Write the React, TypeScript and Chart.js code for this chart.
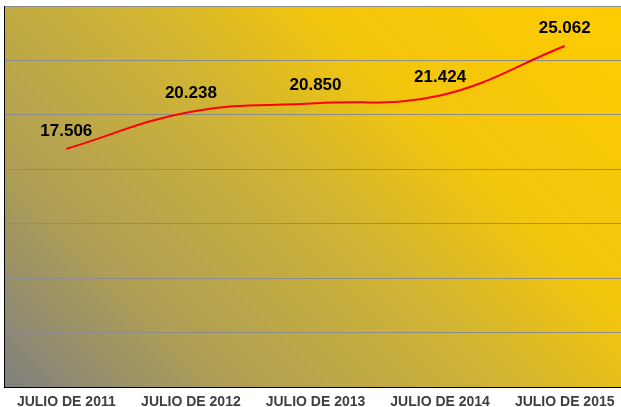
import React, { useEffect, useRef } from "react";
import { Chart, registerables } from "chart.js";

Chart.register(...registerables);

const categories = ["JULIO DE 2011", "JULIO DE 2012", "JULIO DE 2013", "JULIO DE 2014", "JULIO DE 2015"];
const values = [17506, 20238, 20850, 21424, 25062];
const yMin = 0;
const yMax = 28000;
const yStep = 4000;

const fmt = (v: number) => {
  const s = Math.round(v).toString();
  return s.replace(/\B(?=(\d{3})+(?!\d))/g, ".");
};

const bgPlugin = {
  id: "bgGradient",
  beforeDraw(chart: any) {
    const { ctx, chartArea } = chart;
    const { left, top, right, bottom } = chartArea;
    const w = right - left;
    const h = bottom - top;
    const d = (w + h) / 2;
    const g = ctx.createLinearGradient(left, bottom, left + d, bottom - d);
    g.addColorStop(0, "rgb(128,128,128)");
    g.addColorStop(0.22, "rgb(174,158,86)");
    g.addColorStop(0.5, "rgb(208,180,52)");
    g.addColorStop(0.68, "rgb(242,197,14)");
    g.addColorStop(1, "rgb(255,204,0)");
    ctx.save();
    ctx.fillStyle = g;
    ctx.fillRect(left, top, w, h);
    ctx.restore();
  },
};

const labelPlugin = {
  id: "valueLabels",
  afterDatasetsDraw(chart: any) {
    const { ctx } = chart;
    const meta = chart.getDatasetMeta(0);
    ctx.save();
    ctx.font = "bold 17px Arial, 'Liberation Sans', sans-serif";
    ctx.fillStyle = "#000000";
    ctx.textAlign = "center";
    ctx.textBaseline = "middle";
    meta.data.forEach((pt: any, i: number) => {
      ctx.fillText(fmt(values[i]), pt.x, pt.y - 18);
    });
    ctx.restore();
  },
};

export default function App() {
  const ref = useRef<HTMLCanvasElement | null>(null);

  useEffect(() => {
    if (!ref.current) return;
    const chart = new Chart(ref.current, {
      type: "line",
      data: {
        labels: categories,
        datasets: [
          {
            data: values,
            borderColor: "#FF0000",
            borderWidth: 2,
            pointRadius: 0,
            tension: 0.4,
            fill: false,
          },
        ],
      },
      options: {
        animation: false,
        responsive: true,
        maintainAspectRatio: false,
        layout: { padding: { left: 4, top: 6, right: 0, bottom: 0 } },
        plugins: {
          legend: { display: false },
          tooltip: { enabled: false },
        },
        scales: {
          x: {
            offset: true,
            grid: { display: false, drawTicks: false },
            border: { display: true, color: "#000000", width: 1 },
            ticks: {
              padding: 7,
              color: "#404040",
              font: { family: "Arial, 'Liberation Sans', sans-serif", size: 14, weight: "bold" },
              maxRotation: 0,
              autoSkip: false,
            },
          },
          y: {
            min: yMin,
            max: yMax,
            ticks: { display: false, stepSize: yStep },
            grid: { color: "#8c8c8c", lineWidth: 1, drawTicks: false },
            border: { display: true, color: "#000000", width: 1 },
          },
        },
      },
      plugins: [bgPlugin, labelPlugin],
    });
    return () => chart.destroy();
  }, []);

  return (
    <div style={{ position: "fixed", left: 0, top: 0, width: 621, height: 407, overflow: "hidden", background: "#ffffff" }}>
      <div style={{ position: "relative", width: 627, height: 418 }}>
        <canvas ref={ref} />
      </div>
    </div>
  );
}
